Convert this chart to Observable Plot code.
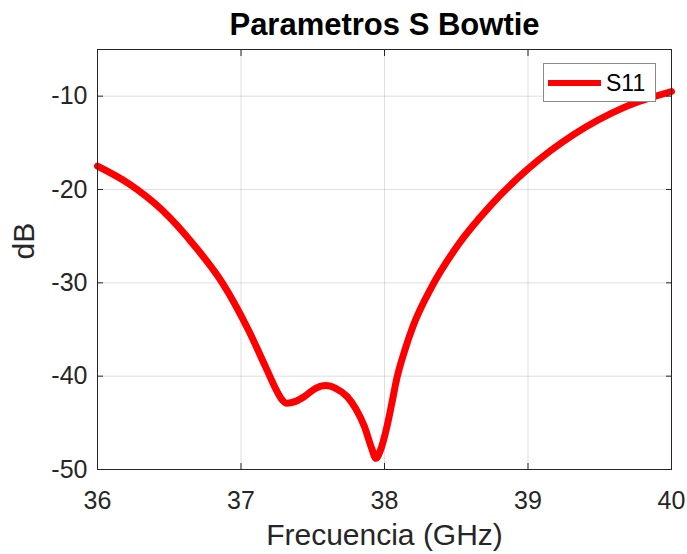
<!DOCTYPE html>
<html>
<head>
<meta charset="utf-8">
<script src="https://cdn.jsdelivr.net/npm/d3@7"></script>
<script src="https://cdn.jsdelivr.net/npm/@observablehq/plot@0.6"></script>
<style>
  html, body { margin: 0; padding: 0; background: #fff; }
  #wrap { position: relative; width: 687px; height: 554px; }
  #legend {
    position: absolute; left: 543px; top: 63px; width: 113px; height: 39px;
    box-sizing: border-box; border: 1px solid #8a8a8a; background: #fff;
    font-family: "Liberation Sans", Arial, sans-serif; font-size: 23px; color: #000;
  }
  #legend .sw { position: absolute; left: 4px; top: 16px; width: 53px; height: 6px; background: #ff0000; }
  #legend .lb { position: absolute; left: 62px; top: 6px; line-height: 26px; }
</style>
</head>
<body>
<div id="wrap"></div>
<script>
const title = "Parametros S Bowtie";
const xLabel = "Frecuencia (GHz)";
const yLabel = "dB";
const seriesName = "S11";

const freq = [36.00, 36.22, 36.45, 36.68, 36.87, 37.05, 37.18, 37.25, 37.28, 37.32, 37.38, 37.44, 37.52, 37.59, 37.66, 37.74, 37.80, 37.86, 37.91, 37.94, 37.97, 38.02, 38.05, 38.085, 38.14, 38.20, 38.33, 38.51, 38.74, 39.00, 39.32, 39.67, 40.00];
const s11  = [-17.5, -19.4, -22.2, -26.1, -30.0, -35.0, -39.3, -41.6, -42.4, -42.9, -42.7, -42.2, -41.3, -41.0, -41.3, -42.2, -43.5, -45.4, -47.7, -48.8, -48.0, -45.2, -43.0, -40.3, -37.3, -34.6, -30.4, -26.0, -21.7, -17.8, -14.1, -11.2, -9.5];

const xTicks = [36, 37, 38, 39, 40];
const yTicks = [-50, -40, -30, -20, -10];

const data = freq.map((f, i) => ({f, db: s11[i]}));
const ink = "#262626";

const chart = Plot.plot({
  width: 687,
  height: 554,
  marginLeft: 97,
  marginRight: 16,
  marginTop: 49,
  marginBottom: 85,
  style: {fontFamily: '"Liberation Sans", Arial, sans-serif', fontSize: "25px", color: ink, background: "#fff"},
  x: {domain: [36, 40]},
  y: {domain: [-50, -5]},
  marks: [
    Plot.gridX(xTicks, {stroke: ink, strokeOpacity: 0.15, strokeWidth: 1}),
    Plot.gridY(yTicks, {stroke: ink, strokeOpacity: 0.15, strokeWidth: 1}),
    Plot.line(data, {x: "f", y: "db", stroke: "#ff0000", strokeWidth: 7, curve: "monotone-x"}),
    Plot.frame({stroke: ink, strokeWidth: 1}),
    Plot.axisX(xTicks, {anchor: "bottom", tickSize: -6, tickPadding: 28, tickFormat: d => String(d), label: null, fill: ink, stroke: ink}),
    Plot.axisX(xTicks, {anchor: "top", tickSize: -6, tickFormat: () => "", label: null, stroke: ink}),
    Plot.axisY(yTicks, {anchor: "left", tickSize: -6, tickPadding: 16, tickFormat: d => String(d), label: null, fill: ink, stroke: ink}),
    Plot.axisY(yTicks, {anchor: "right", tickSize: -6, tickFormat: () => "", label: null, stroke: ink}),
    Plot.text([title], {frameAnchor: "top", dy: -15, lineAnchor: "bottom", fontSize: 31, fontWeight: "bold", fill: "#000"}),
    Plot.text([xLabel], {frameAnchor: "bottom", dy: 75, lineAnchor: "bottom", fontSize: 30, fill: ink}),
    Plot.text([yLabel], {frameAnchor: "left", dx: -64, rotate: -90, lineAnchor: "bottom", fontSize: 30, fill: ink})
  ]
});

const wrap = document.getElementById("wrap");
wrap.appendChild(chart);
const legend = document.createElement("div");
legend.id = "legend";
legend.innerHTML = `<div class="sw"></div><div class="lb">${seriesName}</div>`;
wrap.appendChild(legend);
</script>
</body>
</html>
